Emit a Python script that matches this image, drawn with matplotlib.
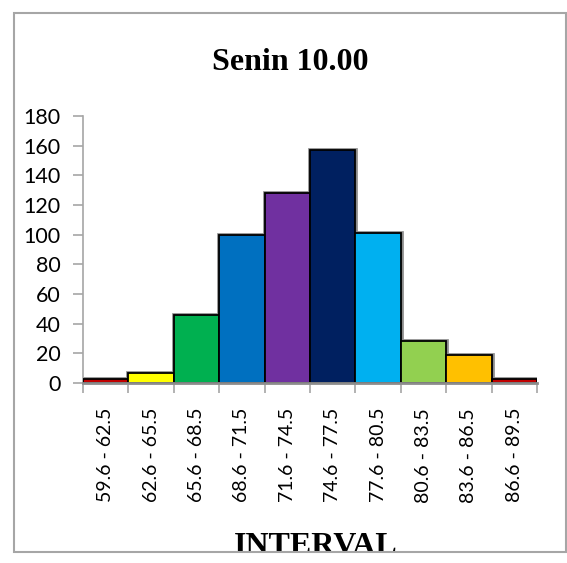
import matplotlib.pyplot as plt
from matplotlib.patches import Rectangle

# frequency per score interval
intervals = ['59.6 - 62.5', '62.6 - 65.5', '65.6 - 68.5', '68.6 - 71.5', '71.6 - 74.5',
             '74.6 - 77.5', '77.6 - 80.5', '80.6 - 83.5', '83.6 - 86.5', '86.6 - 89.5']
counts = [3, 7, 46, 100, 128, 157, 101, 28, 19, 3]
colors = ['#C00000', '#FFFF00', '#00B050', '#0070C0', '#7030A0',
          '#002060', '#00B0F0', '#92D050', '#FFC000', '#C00000']

W, H = 567, 563
fig = plt.figure(figsize=(W / 100, H / 100), dpi=100)
ax = fig.add_axes([83 / W, 1 - 383 / H, (537 - 83) / W, (383 - 116) / H])

x = list(range(len(counts)))
# soft gray outline behind each bar, then the bar itself with a black edge
ax.bar(x, counts, width=1.0, color='none', edgecolor='#8C8C8C', linewidth=3.4, zorder=2)
ax.bar(x, counts, width=1.0, color=colors, edgecolor='black', linewidth=1.3, zorder=3)

ax.set_xlim(-0.5, len(counts) - 0.5)
ax.set_ylim(0, 180)
ax.set_yticks(range(0, 181, 20))
ax.set_xticks(x)
ax.set_xticklabels(intervals, rotation=90, fontsize=14, family='Lato')
for lab in ax.get_yticklabels():
    lab.set_fontsize(15.5)
    lab.set_family('Lato')

# boundary ticks between the categories
ax.set_xticks([i - 0.5 for i in range(len(counts) + 1)], minor=True)
ax.tick_params(axis='x', which='major', length=0, pad=18)
ax.tick_params(axis='x', which='minor', length=7, color='#A6A6A6', width=1.2)
ax.tick_params(axis='y', length=7, color='#A6A6A6', width=1.2, pad=9)

for s in ['top', 'right']:
    ax.spines[s].set_visible(False)
ax.spines['left'].set_color('#A6A6A6')
ax.spines['left'].set_linewidth(1.2)
ax.spines['bottom'].set_color('#8C8C8C')
ax.spines['bottom'].set_linewidth(2)
ax.spines['bottom'].set_zorder(4)

fig.text(290 / W, 1 - 70 / H, 'Senin 10.00', ha='center', va='baseline',
         fontsize=23, fontweight='bold', family='Liberation Serif')
fig.text(316 / W, 1 - 554 / H, 'INTERVAL', ha='center', va='baseline',
         fontsize=23, fontweight='bold', family='Liberation Serif')

# white strip below the chart frame, then the frame itself
fig.patches.append(Rectangle((0, 0), 1, 1 - 552 / H, transform=fig.transFigure,
                             facecolor='white', edgecolor='none', zorder=10))
fig.patches.append(Rectangle((14 / W, 1 - 552 / H), (566 - 14) / W, (552 - 13) / H,
                             transform=fig.transFigure, facecolor='none',
                             edgecolor='#A6A6A6', linewidth=1.5, zorder=11))

fig.savefig('out.png', dpi=100)
